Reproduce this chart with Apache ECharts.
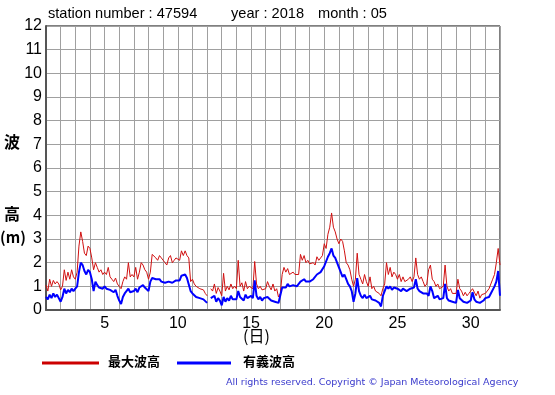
<!DOCTYPE html>
<html><head><meta charset="utf-8">
<script src="https://cdn.jsdelivr.net/npm/echarts@6/dist/echarts.min.js"></script>
<style>html,body{margin:0;padding:0;background:#fff}#c{width:555px;height:395px}</style>
</head><body><div id="c"></div>
<script>
// 3-hourly readings, starting day 1 00h, step 0.125 day
var startDay = 1, stepDay = 0.125;
var sigWave = [
 0.55,0.45,0.65,0.5,0.7,0.55,0.65,0.6,
 0.35,0.55,0.9,0.7,0.85,0.75,0.9,0.8,
 0.9,1.0,1.6,2.0,1.9,1.65,1.5,1.7,
 1.6,1.3,0.8,1.2,1.05,0.95,1.0,0.9,
 1.0,0.9,0.95,0.85,0.8,0.75,0.85,0.6,
 0.4,0.25,0.55,0.7,0.65,0.9,0.75,0.8,
 0.8,0.9,0.75,0.95,1.0,1.05,0.95,1.0,
 0.8,1.2,1.35,1.4,1.3,1.25,1.3,1.2,
 1.2,1.15,1.1,1.2,1.25,1.15,1.2,1.25,
 1.3,1.25,1.45,1.4,1.5,1.35,1.3,0.8,
 0.7,0.65,0.55,0.6,0.5,0.55,0.45,0.4,
 0.3,null,0.5,0.45,0.6,0.35,0.5,0.4,
 0.2,0.55,0.35,0.5,0.4,0.6,0.45,0.5,
 0.45,0.8,0.55,0.6,0.4,0.65,0.5,0.55,
 0.6,0.5,1.25,0.6,0.45,0.55,0.4,0.5,
 0.45,0.55,0.5,0.4,0.45,0.35,0.4,0.3,
 0.35,0.95,1.0,0.95,1.1,1.0,0.95,1.05,
 1.0,1.0,1.05,1.2,1.25,1.3,1.2,1.25,
 1.2,1.25,1.3,1.35,1.5,1.45,1.6,1.55,
 1.85,1.9,2.25,2.4,2.6,2.3,2.2,2.0,
 1.8,1.6,1.4,1.5,1.3,1.1,1.0,0.8,
 0.35,0.7,1.35,0.8,0.6,0.5,0.65,0.5,
 0.5,0.6,0.45,0.5,0.4,0.45,0.3,0.15,
 0.6,0.55,1.0,0.9,1.0,0.85,0.95,0.9,
 0.9,0.85,0.8,0.9,0.85,0.8,0.85,0.9,
 0.85,0.95,1.3,0.9,0.8,0.75,0.7,0.65,
 0.7,0.6,1.0,0.8,0.5,0.55,0.6,0.45,
 0.45,0.5,1.1,0.5,0.4,0.45,0.35,0.4,
 0.3,0.85,0.5,0.45,0.35,0.4,0.3,0.35,
 0.4,0.75,0.45,0.35,0.4,0.3,0.35,0.4,
 0.5,0.45,0.55,0.7,0.65,1.0,1.2,1.65,
 0.6
];
var maxWave = [
 1.05,0.8,1.3,1.0,1.25,1.1,1.2,1.1,
 0.85,1.0,1.7,1.25,1.6,1.3,1.7,1.4,
 1.3,1.6,2.7,3.3,2.9,2.4,2.3,2.7,
 2.6,2.2,1.7,2.0,1.8,1.6,1.7,1.5,
 1.6,1.5,1.8,1.4,1.3,1.2,1.35,1.1,
 1.0,0.9,1.2,1.4,1.3,2.0,1.4,1.5,
 1.4,1.8,1.3,1.6,2.0,1.9,1.7,1.6,
 1.3,1.6,2.35,2.4,2.2,2.1,2.3,2.2,
 2.1,2.0,1.9,2.2,2.3,2.0,2.1,2.2,
 2.2,2.1,2.5,2.3,2.5,2.3,2.2,1.2,
 1.3,1.1,1.0,1.05,0.9,0.95,0.85,0.7,
 0.6,null,0.9,0.8,1.1,0.7,0.95,0.8,
 0.6,1.55,0.8,1.0,0.85,1.1,0.9,1.0,
 0.9,2.1,1.0,1.15,0.8,1.2,0.9,1.0,
 1.0,0.9,2.05,1.1,0.9,1.0,0.85,0.9,
 0.9,1.2,1.0,0.85,1.1,0.8,0.9,0.55,
 0.7,1.5,1.8,1.6,1.75,1.5,1.5,1.6,
 1.5,1.55,1.5,2.35,2.1,2.3,2.0,2.1,
 1.95,1.9,2.0,1.9,2.25,2.1,2.2,2.3,
 2.8,2.6,3.2,3.5,4.1,3.5,3.3,3.0,
 2.8,3.0,2.9,2.5,2.0,1.9,1.7,1.3,
 1.0,1.3,2.4,1.5,1.3,1.1,1.5,1.2,
 1.0,1.4,0.9,1.0,0.8,0.85,0.7,0.6,
 0.9,1.1,2.0,1.5,1.8,1.4,1.6,1.5,
 1.3,1.5,1.2,1.4,1.2,1.25,1.3,1.4,
 1.2,1.4,2.2,1.5,1.3,1.4,1.2,1.0,
 1.1,1.7,1.9,1.3,1.2,1.0,1.1,0.9,
 0.85,1.0,1.9,1.0,0.8,0.9,0.7,0.75,
 0.7,1.3,0.9,0.8,0.6,0.75,0.6,0.7,
 0.7,0.9,0.75,0.6,0.8,0.5,0.65,0.7,
 0.7,0.75,0.9,1.1,1.3,1.5,2.0,2.6,
 1.9
];
var xTickLabels = [5,10,15,20,25,30];
var seriesNames = ['最大波高','有義波高'];

function pairs(arr){ return arr.map(function(v,i){ return [startDay + i*stepDay, v]; }); }

var chart = echarts.init(document.getElementById('c'), null, {renderer:'canvas'});
var gridCol = '#a0a0a0';
chart.setOption({
  animation:false,
  grid:{left:46, right:55, top:26, bottom:85, show:true, borderColor:'#000', borderWidth:1},
  xAxis:{type:'value', min:1, max:32, interval:1,
    axisLine:{show:true, onZero:false, lineStyle:{color:'#555', width:2}},
    axisTick:{show:false},
    splitLine:{show:true, lineStyle:{color:gridCol, width:1}},
    axisLabel:{color:'#000', fontSize:16, fontFamily:'Liberation Sans, Arial', margin:6,
      formatter:function(v){ return xTickLabels.indexOf(v)>=0 ? String(v) : ''; }}
  },
  yAxis:{type:'value', min:0, max:12, interval:1,
    axisLine:{show:true, lineStyle:{color:'#555', width:2}},
    axisTick:{show:false},
    splitLine:{show:true, lineStyle:{color:gridCol, width:1}},
    axisLabel:{color:'#000', fontSize:16, fontFamily:'Liberation Sans, Arial', margin:4}
  },
  series:[
    {name:seriesNames[0], type:'line', data:pairs(maxWave), showSymbol:false, connectNulls:false,
     lineStyle:{color:'#d01010', width:1}, z:2},
    {name:seriesNames[1], type:'line', data:pairs(sigWave), showSymbol:false, connectNulls:false,
     lineStyle:{color:'#0000ff', width:2}, z:3}
  ],
  graphic:[
    {type:'text', left:48, top:6, style:{text:'station number : 47594', font:'14.6px "Liberation Sans", Arial', fill:'#000'}},
    {type:'text', left:231, top:6, style:{text:'year : 2018', font:'14.6px "Liberation Sans", Arial', fill:'#000'}},
    {type:'text', left:318, top:6, style:{text:'month : 05', font:'14.6px "Liberation Sans", Arial', fill:'#000'}},
    {type:'text', left:4, top:134, style:{text:'波', font:'bold 16px "Noto Sans CJK JP"', fill:'#000'}},
    {type:'text', left:4, top:206, style:{text:'高', font:'bold 16px "Noto Sans CJK JP"', fill:'#000'}},
    {type:'text', left:0, top:230, style:{text:'(m)', font:'bold 15px "Noto Sans CJK JP"', fill:'#000'}},
    {type:'text', left:243, top:328, style:{text:'(日)', font:'16px "Noto Sans CJK JP"', fill:'#000'}},
    {type:'line', shape:{x1:42,y1:363,x2:99,y2:363}, style:{stroke:'#cc0000', lineWidth:3}},
    {type:'text', left:108, top:355, style:{text:seriesNames[0], font:'bold 13px "Noto Sans CJK JP"', fill:'#000'}},
    {type:'line', shape:{x1:177,y1:363,x2:231,y2:363}, style:{stroke:'#0000ff', lineWidth:3}},
    {type:'text', left:243, top:355, style:{text:seriesNames[1], font:'bold 13px "Noto Sans CJK JP"', fill:'#000'}},
    {type:'text', left:226, top:378, style:{text:'All rights reserved. Copyright © Japan Meteorological Agency', font:'9.5px "DejaVu Sans"', fill:'#3a3acc'}}
  ]
});
</script></body></html>
